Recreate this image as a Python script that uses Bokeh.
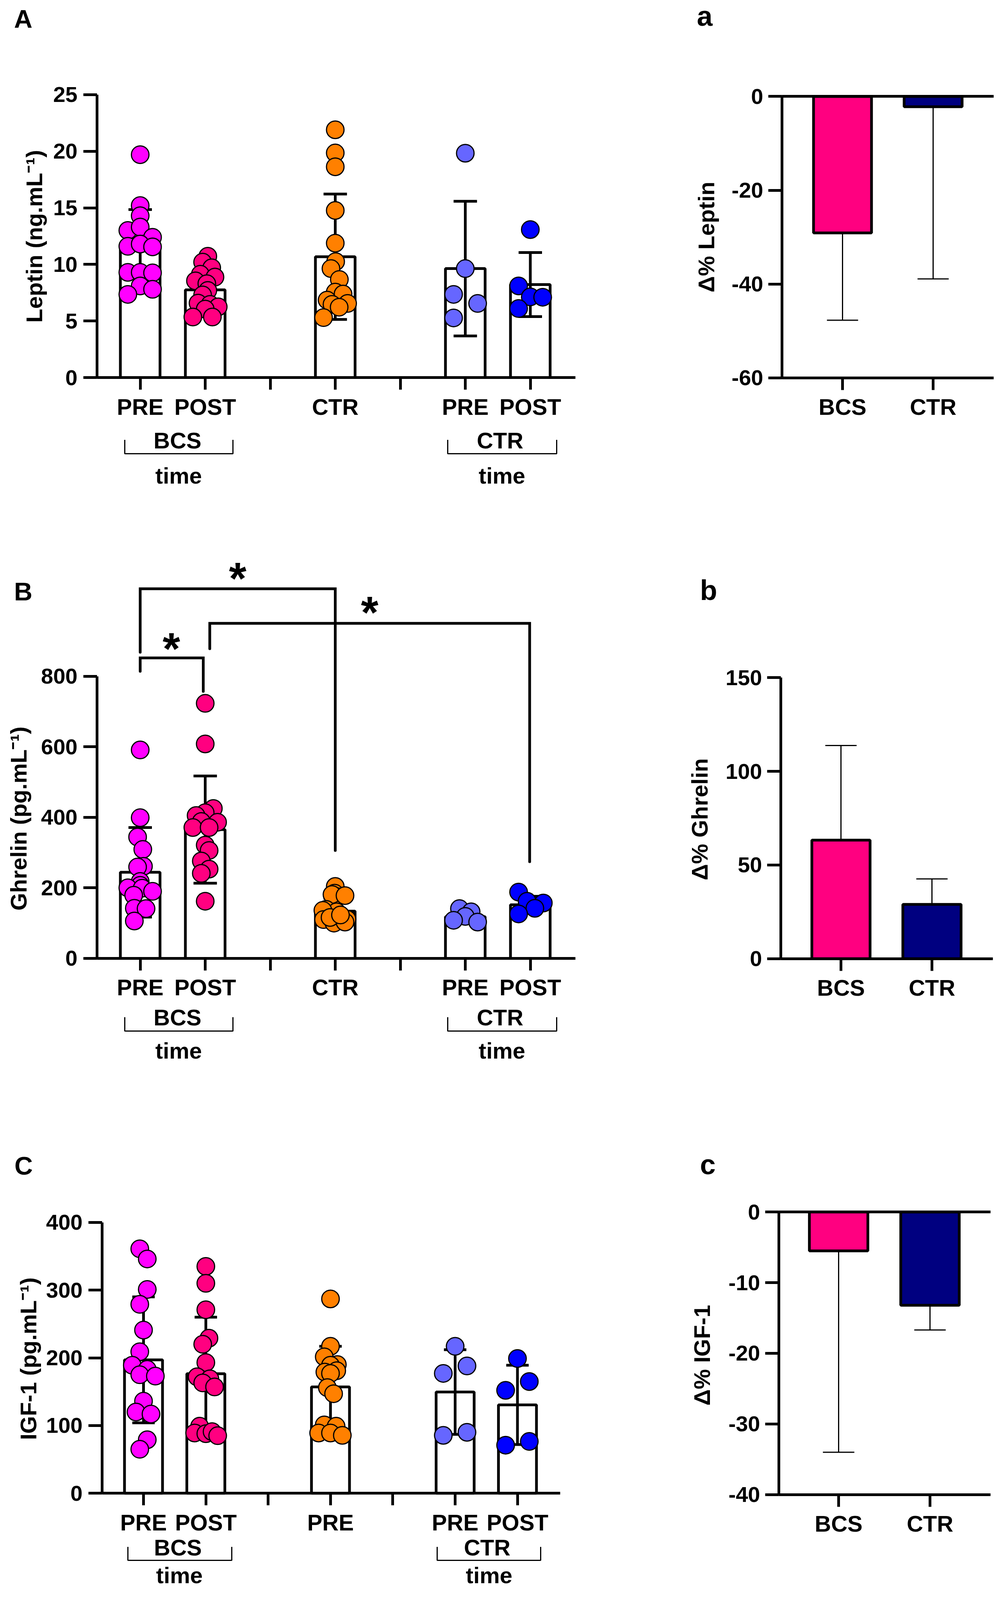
import numpy as np
from bokeh.plotting import figure
from bokeh.models import LinearAxis, FixedTicker, Range1d
from bokeh.layouts import column, row
from bokeh.embed import file_html
from bokeh.resources import INLINE
from bokeh.core.properties import value

# ---------------------------------------------------------------- data
group_pos = [1, 2, 4, 6, 7]
group_colors = ["#FF00FF", "#FF0080", "#FF8000", "#6666FF", "#0000FF"]
x_ticks = [1, 2, 3, 4, 5, 6, 7]
xlabels_AB = {1: "PRE", 2: "POST", 3: "", 4: "CTR", 5: "", 6: "PRE", 7: "POST"}
xlabels_C = {1: "PRE", 2: "POST", 3: "", 4: "PRE", 5: "", 6: "PRE", 7: "POST"}

# Leptin (ng/mL)
leptin_mean = [11.33, 7.75, 10.68, 9.63, 8.22]
leptin_sd = [3.52, 1.80, 5.54, 5.95, 2.83]
leptin_pre_bcs = [19.7, 15.2, 14.3, 13.0, 13.3, 12.4, 11.6, 11.8, 11.55, 9.3, 9.3, 9.25, 8.1, 7.8, 7.35]
leptin_post_bcs = [10.72, 10.2, 9.7, 9.13, 8.88, 8.55, 8.3, 7.7, 7.3, 6.58, 6.47, 6.25, 6.05, 5.35, 5.35]
leptin_ctr = [21.9, 19.85, 18.63, 14.77, 11.88, 10.25, 9.63, 8.67, 7.55, 7.38, 6.85, 6.55, 6.47, 6.22, 5.3]
leptin_pre_ctr = [19.83, 9.63, 7.35, 6.55, 5.27]
leptin_post_ctr = [13.08, 8.1, 7.13, 7.1, 6.1]
leptin_jitter = [
    [0, 0, 0, -0.19, 0, 0.19, -0.19, 0, 0.19, -0.19, 0, 0.19, 0, 0.19, -0.19],
    [0.04, -0.04, 0.1, -0.075, 0.15, -0.15, 0.025, 0.04, -0.04, -0.11, 0.075, 0.2, 0.0, -0.19, 0.11],
    [0, 0, 0, 0, 0, 0.006, -0.066, 0.063, 0, 0.12, -0.125, 0.19, -0.05, 0.06, -0.18],
    [0, 0, -0.18, 0.19, -0.18],
    [0, -0.18, 0, 0.19, -0.18],
]

# Ghrelin (pg/mL)
ghrelin_mean = [244, 365, 134, 118, 152]
ghrelin_sd = [127, 152, 36, 16, 24]
ghrelin_pre_bcs = [591, 399, 344, 309, 261, 259, 218, 207, 200, 199, 190, 179, 142, 141, 106]
ghrelin_post_bcs = [723, 608, 425, 413, 405, 388, 386, 371, 371, 321, 306, 276, 253, 241, 162]
ghrelin_ctr = [204, 185, 175, 181, 178, 139, 132, 136, 110, 110, 111, 100, 103, 116, 123]
ghrelin_pre_ctr = [141, 132, 119, 108, 103]
ghrelin_post_ctr = [188, 162, 157, 142, 126]
ghrelin_jitter = [
    [0, 0, -0.04, 0.04, 0.05, -0.04, 0, 0, -0.19, 0.03, 0.19, -0.1, -0.09, 0.09, -0.09],
    [0, 0, 0.125, 0, -0.14, -0.06, 0.19, -0.19, 0.06, 0, 0.06, -0.06, 0.06, -0.06, 0],
    [0, -0.01, 0.03, -0.05, 0.15, -0.14, 0.02, -0.19, -0.18, 0.06, 0.18, -0.02, 0.15, -0.08, 0.08],
    [-0.09, 0.09, 0, -0.18, 0.19],
    [-0.18, -0.05, 0.2, 0.07, -0.18],
]

# IGF-1 (pg/mL)
igf_mean = [197, 176.5, 157, 149.5, 130.5]
igf_sd = [93, 83.5, 60, 62.5, 58.5]
igf_pre_bcs = [361, 346, 301, 279, 241, 209, 189, 183, 175, 173, 136, 120, 117, 79, 65]
igf_post_bcs = [335, 310, 271, 229, 220, 193, 172, 169, 163, 157, 99, 89, 88, 91, 85]
igf_ctr = [287, 217, 201.5, 190, 189, 181, 179, 177, 156, 147, 101, 99, 89, 89, 85.5]
igf_pre_ctr = [217, 188, 177, 90, 85.5]
igf_post_ctr = [199, 165, 152, 76.5, 71]
igf_jitter = [
    [-0.06, 0.06, 0.06, -0.06, 0, -0.06, -0.18, 0.06, -0.06, 0.19, 0, -0.12, 0.12, 0.06, -0.06],
    [0, 0, 0, 0.05, -0.05, 0, -0.14, 0.065, -0.05, 0.14, -0.1, -0.18, 0, 0.1, 0.19],
    [0, 0, -0.1, 0.11, 0, 0.1, -0.09, 0, -0.05, 0.05, -0.1, 0.09, -0.19, 0, 0.19],
    [0, 0.19, -0.19, 0.19, -0.19],
    [0, 0.19, -0.19, 0.19, -0.19],
]

# Delta % panels
delta_groups = ["BCS", "CTR"]
delta_pos = [1, 2]
delta_colors = ["#FF0080", "#000080"]
d_leptin_mean = [-29.1, -2.2]
d_leptin_sd = [18.6, 36.7]
d_ghrelin_mean = [63.3, 29.0]
d_ghrelin_sd = [50.5, 13.6]
d_igf_mean = [-5.5, -13.2]
d_igf_sd = [28.5, 3.5]

# significance brackets in panel B: (x_left, x_right, y_bar, y_left_end, y_right_end)
sig_brackets = [(1, 4, 1048, 868, 306), (2.07, 6.99, 950, 878, 274), (1, 1.97, 852, 814, 757)]
sig_stars = [(2.5, 1104), (4.53, 1007), (1.48, 904)]

FONT = value("Liberation Sans")

# vertical fit: the photographed area is about 4096 px tall
ROW_H = [1278, 1462, 1324]
SY = 4064.0 / 4587.0


# ---------------------------------------------------------------- helpers
class Frame:
    def __init__(self, box, height, xa, unit, yb, ky):
        self.box, self.height, self.xa, self.unit, self.yb, self.ky = box, height, xa, unit, yb, ky

    def X(self, px):
        return (px - self.xa) / self.unit + 1

    def Y(self, py):
        return (self.yb - py) / self.ky


def make_fig(fr):
    fx0, fy0, fx1, fy1 = fr.box
    p = figure(width=fx1 - fx0, height=fr.height,
               x_range=Range1d(fr.X(fx0), fr.X(fx1)),
               y_range=Range1d(fr.Y(fy1), fr.Y(fy0)),
               output_backend="svg", toolbar_location=None,
               x_axis_type=None, y_axis_type=None, min_border=0)
    p.min_border_left = p.min_border_right = p.min_border_top = p.min_border_bottom = 0
    p.outline_line_color = None
    p.background_fill_color = "white"
    p.border_fill_color = "white"
    return p


def style_axis(ax, size, standoff, tick_out=35):
    ax.axis_line_width = 7
    ax.axis_line_color = "black"
    ax.major_tick_line_width = 7
    ax.major_tick_line_color = "black"
    ax.major_tick_out = tick_out
    ax.major_tick_in = 0
    ax.minor_tick_out = 0
    ax.minor_tick_in = 0
    ax.major_label_text_font = "Liberation Sans"
    ax.major_label_text_font_style = "bold"
    ax.major_label_text_font_size = size
    ax.major_label_text_color = "black"
    ax.major_label_standoff = standoff


def add_text(p, xs, ys, texts, size, align="center", angle=0.0):
    p.text(x=xs, y=ys, text=texts, text_font=FONT, text_font_style="bold",
           text_font_size=value(size), text_align=align, text_baseline="middle",
           angle=angle, text_color="black")


# visual-centre correction (px) for text drawn with a "middle" baseline
CAP = 8


def main_panel(fr, yaxis_px, xend_px, yticks, means, sds, points, jitters, xlabels,
               ylabel, ylabel_px, letter, letter_px, under):
    p = make_fig(fr)
    ya = LinearAxis(fixed_location=fr.X(yaxis_px), bounds=(yticks[0], yticks[-1]),
                    ticker=FixedTicker(ticks=yticks))
    style_axis(ya, "56px", 15)
    p.add_layout(ya, "left")
    xa = LinearAxis(fixed_location=0, bounds=(fr.X(yaxis_px), fr.X(xend_px)),
                    ticker=FixedTicker(ticks=x_ticks), major_label_overrides=xlabels)
    style_axis(xa, "58px", 11, tick_out=31)
    p.add_layout(xa, "below")

    m = np.array(means, dtype=float)
    s = np.array(sds, dtype=float)
    pos = np.array(group_pos, dtype=float)
    p.vbar(x=pos, top=m, bottom=0, width=0.61, fill_color="white",
           line_color="black", line_width=7)
    p.segment(x0=pos, x1=pos, y0=m - s, y1=m + s, line_color="black", line_width=7)
    for yy in (m - s, m + s):
        p.segment(x0=pos - 0.18, x1=pos + 0.18, y0=yy, y1=yy, line_color="black", line_width=7)
    for gx, vals, jit, col in zip(group_pos, points, jitters, group_colors):
        p.scatter(x=[gx + j for j in jit], y=vals, size=45, fill_color=col,
                  line_color="black", line_width=3)

    add_text(p, [fr.X(ylabel_px[0] + CAP)], [fr.Y(ylabel_px[1])], [ylabel], "58px",
             angle=np.pi / 2)
    add_text(p, [fr.X(letter_px[0])], [fr.Y(letter_px[1] + 9 / SY)], [letter], "65px")
    for u in under:
        add_text(p, [fr.X(u["lx"])], [fr.Y(u["ly"] + CAP / SY)], [u["label"]], "58px")
        bx0, bx1, by, btop = u["br"]
        p.line(x=[fr.X(bx0), fr.X(bx0), fr.X(bx1), fr.X(bx1)],
               y=[fr.Y(btop), fr.Y(by), fr.Y(by), fr.Y(btop)],
               line_color="black", line_width=3)
        add_text(p, [fr.X(u["tx"])], [fr.Y(u["ty"] + CAP / SY)], ["time"], "58px")
    return p


def delta_panel(fr, yaxis_px, xend_px, yticks, means, sds, ylabel, ylabel_px, letter, letter_py):
    p = make_fig(fr)
    overrides = {t: ("%d" % t) for t in yticks}
    ya = LinearAxis(fixed_location=fr.X(yaxis_px), bounds=(yticks[0], yticks[-1]),
                    ticker=FixedTicker(ticks=yticks), major_label_overrides=overrides)
    style_axis(ya, "56px", 13)
    p.add_layout(ya, "left")
    low = yticks[0]
    xa = LinearAxis(fixed_location=low, bounds=(fr.X(yaxis_px), fr.X(xend_px)),
                    ticker=FixedTicker(ticks=delta_pos),
                    major_label_overrides={1: delta_groups[0], 2: delta_groups[1]})
    style_axis(xa, "58px", 11, tick_out=31)
    p.add_layout(xa, "below")
    if low < 0:
        za = LinearAxis(fixed_location=0, bounds=(fr.X(yaxis_px), fr.X(xend_px)),
                        ticker=FixedTicker(ticks=[]))
        style_axis(za, "58px", 11)
        p.add_layout(za, "below")

    m = np.array(means, dtype=float)
    s = np.array(sds, dtype=float)
    pos = np.array(delta_pos, dtype=float)
    end = np.where(m < 0, m - s, m + s)
    p.segment(x0=pos, x1=pos, y0=m, y1=end, line_color="black", line_width=3)
    p.segment(x0=pos - 0.172, x1=pos + 0.172, y0=end, y1=end, line_color="black", line_width=3)
    p.vbar(x=pos, top=m, bottom=0, width=0.64, fill_color=delta_colors,
           line_color="black", line_width=7)

    add_text(p, [fr.X(ylabel_px[0] + CAP)], [fr.Y(ylabel_px[1])], [ylabel], "58px",
             angle=np.pi / 2)
    add_text(p, [fr.X(letter_py[0])], [fr.Y(letter_py[1])], [letter], "72px")
    return p


# ---------------------------------------------------------------- panels
frA = Frame((8, 8, 1700, 1450), ROW_H[0], 366.5, 166.5, 1098, 32.68)
frB = Frame((8, 1450, 1700, 3100), ROW_H[1], 366.5, 166.5, 2776, 1.019)
frC = Frame((8, 3100, 1700, 4595), ROW_H[2], 375, 159.6, 4322, 1.9575)
fra = Frame((1700, 8, 2563, 1450), ROW_H[0], 2165, 232, 286, 13.55)
frb = Frame((1700, 1450, 2563, 3100), ROW_H[1], 2161, 233, 2777, 5.413)
frc = Frame((1700, 3100, 2563, 4595), ROW_H[2], 2155, 234, 3509, 20.425)

pA = main_panel(frA, 256, 1481, [0, 5, 10, 15, 20, 25], leptin_mean, leptin_sd,
                [leptin_pre_bcs, leptin_post_bcs, leptin_ctr, leptin_pre_ctr, leptin_post_ctr],
                leptin_jitter, xlabels_AB, "Leptin (ng.mL\u207b\u00b9)", (87, 690), "A", (67, 52),
                [dict(label="BCS", lx=462, ly=1271, br=(327, 604, 1318, 1278), tx=465, ty=1372),
                 dict(label="CTR", lx=1288, ly=1271, br=(1154, 1433, 1318, 1278), tx=1293, ty=1372)])

pB = main_panel(frB, 256, 1481, [0, 200, 400, 600, 800], ghrelin_mean, ghrelin_sd,
                [ghrelin_pre_bcs, ghrelin_post_bcs, ghrelin_ctr, ghrelin_pre_ctr, ghrelin_post_ctr],
                ghrelin_jitter, xlabels_AB, "Ghrelin (pg.mL\u207b\u00b9)", (47, 2372), "B", (67, 1706),
                [dict(label="BCS", lx=462, ly=2938, br=(327, 604, 2986, 2946), tx=465, ty=3033),
                 dict(label="CTR", lx=1288, ly=2938, br=(1154, 1433, 2986, 2946), tx=1293, ty=3033)])
for xl, xr, yb, yl, yr in sig_brackets:
    pB.line(x=[xl, xl, xr, xr], y=[yl, yb, yb, yr], line_color="black", line_width=7,
            line_cap="round", line_join="miter")
add_text(pB, [s[0] for s in sig_stars], [s[1] - 23 / (1.019 * SY) for s in sig_stars],
         ["*"] * len(sig_stars), "115px")

pC = main_panel(frC, 269, 1442, [0, 100, 200, 300, 400], igf_mean, igf_sd,
                [igf_pre_bcs, igf_post_bcs, igf_ctr, igf_pre_ctr, igf_post_ctr],
                igf_jitter, xlabels_C, "IGF-1 (pg.mL\u207b\u00b9)", (72, 3933), "C", (68, 3365),
                [dict(label="BCS", lx=463, ly=4470, br=(335, 601, 4516, 4477), tx=467, ty=4550),
                 dict(label="CTR", lx=1255, ly=4470, br=(1127, 1392, 4516, 4477), tx=1260, ty=4550)])

pa = delta_panel(fra, 2010, 2552, [-60, -40, -20, 0], d_leptin_mean, d_leptin_sd,
                 "\u0394% Leptin", (1808, 692), "a", (1812, 54))
pb = delta_panel(frb, 2007, 2550, [0, 50, 100, 150], d_ghrelin_mean, d_ghrelin_sd,
                 "\u0394% Ghrelin", (1791, 2374), "b", (1822, 1712))
pc = delta_panel(frc, 2002, 2544, [-40, -30, -20, -10, 0], d_igf_mean, d_igf_sd,
                 "\u0394% IGF-1", (1797, 3923), "c", (1820, 3371))

layout = column(row(pA, pa), row(pB, pb), row(pC, pc))
open("out.html", "w").write(file_html(layout, INLINE))
